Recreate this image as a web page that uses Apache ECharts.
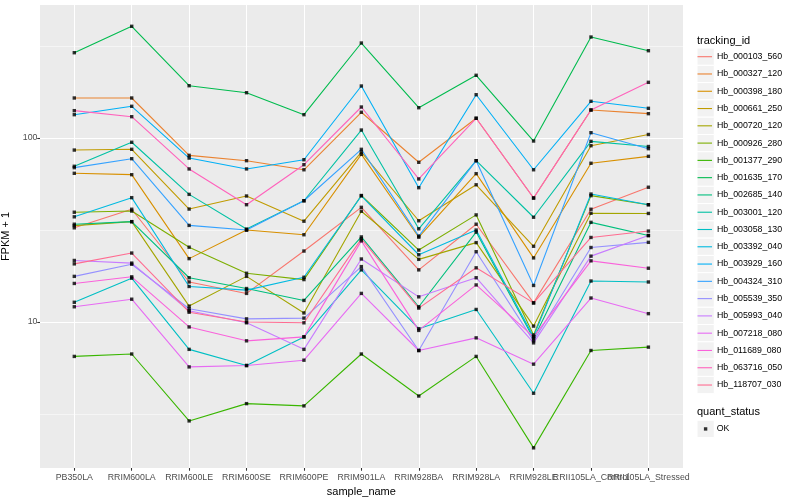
<!DOCTYPE html>
<html><head><meta charset="utf-8">
<script src="https://cdn.jsdelivr.net/npm/echarts@6/dist/echarts.min.js"></script>
<style>html,body{margin:0;padding:0;background:#fff}#c{width:800px;height:500px}</style>
</head><body><div id="c"></div>
<script>
const categories = ['PB350LA','RRIM600LA','RRIM600LE','RRIM600SE','RRIM600PE','RRIM901LA','RRIM928BA','RRIM928LA','RRIM928LE','RRII105LA_Control','RRII105LA_Stressed'];

const Hb_000103_560 = [32.5, 41.0, 16.5, 14.3, 24.3, 42.0, 19.2, 34.0, 12.7, 41.0, 54.0];
const Hb_000327_120 = [165.0, 165.0, 80.5, 75.3, 67.2, 138.0, 73.8, 128.0, 47.2, 142.0, 135.6];
const Hb_000398_180 = [64.3, 63.2, 22.1, 31.6, 29.8, 81.5, 28.9, 64.0, 22.3, 72.9, 79.5];
const Hb_000661_250 = [86.0, 86.8, 41.1, 48.4, 35.3, 83.9, 35.5, 55.7, 25.8, 90.8, 104.5];
const Hb_000720_120 = [33.4, 35.1, 12.2, 17.7, 11.2, 40.0, 21.9, 27.0, 9.5, 39.0, 38.9];
const Hb_000926_280 = [39.5, 40.1, 25.5, 18.4, 17.0, 48.7, 24.6, 38.2, 8.5, 48.6, 43.4];
const Hb_001377_290 = [6.5, 6.7, 2.9, 3.6, 3.5, 6.7, 3.96, 6.5, 2.07, 7.0, 7.3];
const Hb_001635_170 = [290.8, 404.7, 192.4, 176.3, 133.9, 328.3, 146.1, 219.2, 96.3, 353.9, 298.2];
const Hb_002685_140 = [34.0, 35.1, 17.4, 15.2, 13.1, 29.0, 12.1, 30.8, 8.1, 34.8, 29.5];
const Hb_003001_120 = [70.2, 94.8, 49.4, 32.0, 45.6, 110.5, 32.1, 75.3, 37.1, 95.9, 89.9];
const Hb_003058_130 = [12.8, 17.3, 7.1, 5.8, 8.3, 19.2, 9.2, 11.7, 4.1, 16.7, 16.5];
const Hb_003392_040 = [37.3, 47.4, 15.6, 14.9, 17.5, 48.5, 23.2, 31.6, 8.3, 49.6, 43.4];
const Hb_003929_160 = [133.9, 148.7, 77.8, 67.9, 76.2, 191.7, 53.7, 171.9, 67.2, 158.3, 145.0];
const Hb_004324_310 = [69.0, 77.2, 33.5, 31.6, 45.6, 86.8, 29.3, 75.3, 15.8, 106.9, 87.5];
const Hb_005539_350 = [17.7, 20.6, 11.8, 10.4, 10.5, 20.0, 7.0, 24.1, 7.9, 25.4, 27.1];
const Hb_005993_040 = [21.6, 20.9, 11.5, 9.9, 7.1, 22.0, 13.7, 17.4, 7.7, 22.8, 29.5];
const Hb_007218_080 = [12.1, 13.3, 5.7, 5.8, 6.2, 14.3, 7.0, 8.2, 5.9, 13.5, 11.1];
const Hb_011689_080 = [16.2, 17.6, 9.4, 7.9, 8.3, 27.6, 9.0, 15.9, 8.3, 21.5, 19.6];
const Hb_063716_050 = [140.8, 130.6, 67.9, 43.4, 71.6, 147.4, 59.9, 128.0, 47.2, 142.0, 200.7];
const Hb_118707_030 = [20.7, 23.7, 11.3, 10.0, 9.9, 28.3, 11.9, 19.7, 12.7, 28.8, 31.2];

const trackingIds = ['Hb_000103_560','Hb_000327_120','Hb_000398_180','Hb_000661_250','Hb_000720_120','Hb_000926_280','Hb_001377_290','Hb_001635_170','Hb_002685_140','Hb_003001_120','Hb_003058_130','Hb_003392_040','Hb_003929_160','Hb_004324_310','Hb_005539_350','Hb_005993_040','Hb_007218_080','Hb_011689_080','Hb_063716_050','Hb_118707_030'];
const seriesValues = [Hb_000103_560,Hb_000327_120,Hb_000398_180,Hb_000661_250,Hb_000720_120,Hb_000926_280,Hb_001377_290,Hb_001635_170,Hb_002685_140,Hb_003001_120,Hb_003058_130,Hb_003392_040,Hb_003929_160,Hb_004324_310,Hb_005539_350,Hb_005993_040,Hb_007218_080,Hb_011689_080,Hb_063716_050,Hb_118707_030];
const palette = ['#F8766D','#EA8331','#D89000','#C09B00','#A3A500','#7CAE00','#39B600','#00BB4E','#00BF7D','#00C1A3','#00BFC4','#00BAE0','#00B0F6','#35A2FF','#9590FF','#C77CFF','#E76BF3','#FA62DB','#FF62BC','#FF6C91'];
const yTickValues = [10, 100];
const statusName = 'OK';

const FONT = "'Liberation Sans', Arial, Helvetica, sans-serif";
// data panel range (grid 0)
const yMin = 1.6086, yMax = 528.34;
// gridline/axis range (grid 1, taller than the canvas so that its end ticks fall off-screen; same scale)
const gMin = 1.03826, gMax = 818.56;
const KEY = 17.28, KEY_TOP = 48.06, KEY_LEFT = 697;

const chart = echarts.init(document.getElementById('c'), null, {renderer: 'canvas'});

const lineSeries = trackingIds.map((name, k) => ({
  type: 'line', name, xAxisIndex: 0, yAxisIndex: 0,
  data: seriesValues[k], symbol: 'none', showSymbol: false,
  lineStyle: {color: palette[k], width: 1.1},
  itemStyle: {color: palette[k]},
  emphasis: {disabled: true}, z: 2, animation: false
}));
const pointData = [];
seriesValues.forEach(arr => arr.forEach((v, i) => pointData.push([i, v])));

const isTick = v => yTickValues.some(t => Math.abs(t - v) < 1e-4 * t);

const graphics = [
  {type: 'rect', shape: {x: 40, y: 5, width: 643, height: 463}, style: {fill: '#EBEBEB'}, z: -100, silent: true},
  {type: 'text', x: KEY_LEFT, y: 40.7, style: {text: 'tracking_id', fill: '#000', font: '11px ' + FONT, verticalAlign: 'middle'}, silent: true},
  {type: 'text', x: KEY_LEFT, y: 412.3, style: {text: 'quant_status', fill: '#000', font: '11px ' + FONT, verticalAlign: 'middle'}, silent: true},
  {type: 'rect', shape: {x: KEY_LEFT, y: 420.3, width: KEY, height: KEY}, style: {fill: '#F2F2F2', stroke: '#fff', lineWidth: 1}, z: -10, silent: true}
];
trackingIds.forEach((n, k) => graphics.push({type: 'rect', shape: {x: KEY_LEFT, y: KEY_TOP + k * KEY, width: KEY, height: KEY}, style: {fill: '#F2F2F2', stroke: '#fff', lineWidth: 1}, z: -10, silent: true}));

const option = {
  animation: false,
  backgroundColor: '#fff',
  textStyle: {fontFamily: FONT},
  graphic: {elements: graphics},
  grid: [
    {left: 74.3, right: 151.6, top: 5, bottom: 32, outerBoundsMode: 'none'},
    {left: 40, right: 117, top: -30, bottom: -3, outerBoundsMode: 'none'}
  ],
  xAxis: [
    {gridIndex: 0, type: 'category', data: categories, boundaryGap: false,
     axisLine: {show: false},
     axisTick: {show: true, length: 2.75, interval: 0, lineStyle: {color: '#333', width: 1.07}},
     axisLabel: {interval: 0, color: '#4D4D4D', fontSize: 8.8, margin: 5, fontFamily: FONT, hideOverlap: false},
     splitLine: {show: true, interval: 0, lineStyle: {color: '#fff', width: 1.07}},
     name: 'sample_name', nameLocation: 'middle', nameGap: 14,
     nameTextStyle: {color: '#000', fontSize: 11, fontFamily: FONT}},
    {gridIndex: 1, type: 'value', show: false, min: 0, max: 1}
  ],
  yAxis: [
    {gridIndex: 0, type: 'log', logBase: 10, min: yMin, max: yMax, show: false},
    {gridIndex: 1, type: 'log', logBase: 10, min: gMin, max: gMax,
     axisLine: {show: false},
     axisTick: {show: true, length: 2.75, lineStyle: {color: '#333', width: 1.07}},
     axisLabel: {show: true, color: '#4D4D4D', fontSize: 8.8, margin: 2.5, fontFamily: FONT,
       formatter: v => (isTick(v) ? String(Math.round(v)) : '')},
     splitLine: {show: true, showMinLine: false, showMaxLine: false, lineStyle: {color: '#fff', width: 1.07}},
     name: 'FPKM + 1', nameLocation: 'middle', nameGap: 22, nameRotate: 90,
     nameTextStyle: {color: '#000', fontSize: 11, fontFamily: FONT}},
    {gridIndex: 1, type: 'log', logBase: Math.sqrt(10), min: gMin, max: gMax,
     axisLine: {show: false}, axisTick: {show: false}, axisLabel: {show: false},
     splitLine: {show: true, showMinLine: false, showMaxLine: false, lineStyle: {color: '#fff', width: 0.53}}}
  ],
  legend: [
    {data: trackingIds, orient: 'vertical', left: 697.5, top: KEY_TOP, padding: 0, itemGap: 0,
     itemWidth: 14.5, itemHeight: 1.1, icon: 'rect', selectedMode: false,
     textStyle: {fontSize: 8.8, color: '#000', fontFamily: FONT, lineHeight: KEY}},
    {data: [statusName], orient: 'vertical', left: 703.9, top: 420.3, padding: 0, itemGap: 0,
     itemWidth: 3.4, itemHeight: 3.4, icon: 'rect', selectedMode: false,
     textStyle: {fontSize: 8.8, color: '#000', fontFamily: FONT, lineHeight: KEY, padding: [0, 0, 0, 4.4]}}
  ],
  series: lineSeries.concat([{
    type: 'scatter', name: statusName, xAxisIndex: 0, yAxisIndex: 0, data: pointData,
    symbol: 'rect', symbolSize: 3.4, itemStyle: {color: '#000'}, z: 3, emphasis: {disabled: true}, animation: false
  }])
};
chart.setOption(option);
</script></body></html>
